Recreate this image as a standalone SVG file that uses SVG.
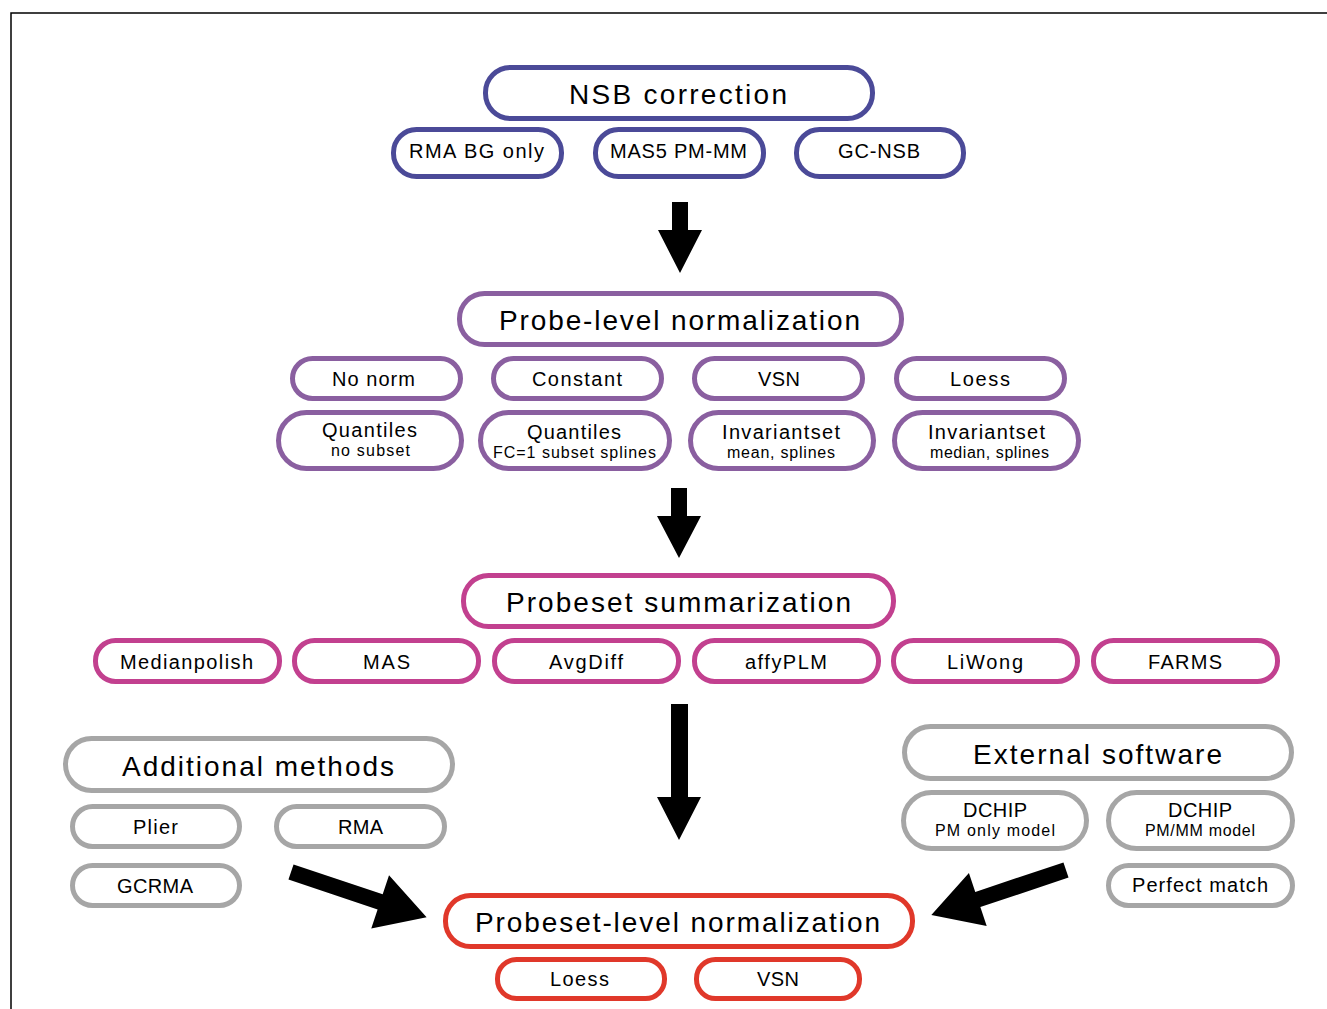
<svg xmlns="http://www.w3.org/2000/svg" width="1327" height="1009" viewBox="0 0 1327 1009">
<style>
rect{fill:#fff;stroke-width:5}
.b rect{stroke:#4b4a98}
.p rect{stroke:#8a5fa0}
.m rect{stroke:#c2408f}
.g rect{stroke:#a6a6a6}
.r rect{stroke:#e0382a}
text{font-family:"Liberation Sans",Arial,sans-serif;fill:#000;text-anchor:middle}
.t{font-size:28px}
.s{font-size:20px}
.x{font-size:16px}
.arr{fill:#000}
</style>
<path d="M11,1009 V13 H1327" fill="none" stroke="#000" stroke-width="1.5"/>
<g id="connectors" class="arr">
<polygon points="672,202 688,202 688,230 702,230 680,273 658,230 672,230"/>
<polygon points="671,488 687,488 687,516 701,516 679,558 657,516 671,516"/>
<polygon points="671,704 688,704 688,797 701,797 679,840 657,797 671,797"/>
<polygon transform="translate(291,872) rotate(18.5)" points="0,-8 94,-8 94,-28 143,0 94,28 94,8 0,8"/>
<polygon transform="translate(1066,870) rotate(161.5)" points="0,-8 93,-8 93,-28 142,0 93,28 93,8 0,8"/>
</g>
<g class="b">
<g id="nsb"><rect x="485.5" y="67.5" width="387" height="51" rx="25"/><text class="t" x="678" y="103.5" textLength="218" lengthAdjust="spacing">NSB correction</text></g>
<g id="rmabg"><rect x="393.5" y="129.5" width="168" height="47" rx="23"/><text class="s" x="476.5" y="158" textLength="135" lengthAdjust="spacing">RMA BG only</text></g>
<g id="mas5"><rect x="595.5" y="129.5" width="168" height="47" rx="23"/><text class="s" x="678.5" y="158" textLength="137" lengthAdjust="spacing">MAS5 PM-MM</text></g>
<g id="gcnsb"><rect x="796.5" y="129.5" width="167" height="47" rx="23"/><text class="s" x="879" y="158" textLength="82" lengthAdjust="spacing">GC-NSB</text></g>
</g>
<g class="p">
<g id="probelevel"><rect x="459.5" y="293.5" width="442" height="51" rx="25"/><text class="t" x="679.5" y="330" textLength="361" lengthAdjust="spacing">Probe-level normalization</text></g>
<g id="nonorm"><rect x="292.5" y="358.5" width="168" height="40" rx="20"/><text class="s" x="373.5" y="386" textLength="83" lengthAdjust="spacing">No norm</text></g>
<g id="constant"><rect x="493.5" y="358.5" width="168" height="40" rx="20"/><text class="s" x="577" y="386" textLength="90" lengthAdjust="spacing">Constant</text></g>
<g id="vsn1"><rect x="694.5" y="358.5" width="168" height="40" rx="20"/><text class="s" x="779" y="386" textLength="42" lengthAdjust="spacing">VSN</text></g>
<g id="loess1"><rect x="896.5" y="358.5" width="168" height="40" rx="20"/><text class="s" x="980" y="386" textLength="60" lengthAdjust="spacing">Loess</text></g>
<g id="quant1"><rect x="278.5" y="412.5" width="183" height="56" rx="28"/><text class="s" x="369.5" y="437" textLength="95" lengthAdjust="spacing">Quantiles</text><text class="x" x="370.5" y="456" textLength="79" lengthAdjust="spacing">no subset</text></g>
<g id="quant2"><rect x="480.5" y="412.5" width="189" height="56" rx="28"/><text class="s" x="574" y="439" textLength="94" lengthAdjust="spacing">Quantiles</text><text class="x" x="574.5" y="458" textLength="163" lengthAdjust="spacing">FC=1 subset splines</text></g>
<g id="inv1"><rect x="690.5" y="412.5" width="183" height="56" rx="28"/><text class="s" x="781" y="439" textLength="118" lengthAdjust="spacing">Invariantset</text><text class="x" x="781" y="458" textLength="108" lengthAdjust="spacing">mean, splines</text></g>
<g id="inv2"><rect x="894.5" y="412.5" width="184" height="56" rx="28"/><text class="s" x="986.5" y="439" textLength="117" lengthAdjust="spacing">Invariantset</text><text class="x" x="989.5" y="458" textLength="119" lengthAdjust="spacing">median, splines</text></g>
</g>
<g class="m">
<g id="summ"><rect x="463.5" y="575.5" width="430" height="51" rx="25"/><text class="t" x="678.5" y="612" textLength="345" lengthAdjust="spacing">Probeset summarization</text></g>
<g id="medianpolish"><rect x="95.5" y="640.5" width="184" height="41" rx="20"/><text class="s" x="186.5" y="669" textLength="133" lengthAdjust="spacing">Medianpolish</text></g>
<g id="mas"><rect x="294.5" y="640.5" width="184" height="41" rx="20"/><text class="s" x="386.5" y="669" textLength="47" lengthAdjust="spacing">MAS</text></g>
<g id="avgdiff"><rect x="494.5" y="640.5" width="184" height="41" rx="20"/><text class="s" x="586" y="669" textLength="74" lengthAdjust="spacing">AvgDiff</text></g>
<g id="affyplm"><rect x="694.5" y="640.5" width="184" height="41" rx="20"/><text class="s" x="786" y="669" textLength="82" lengthAdjust="spacing">affyPLM</text></g>
<g id="liwong"><rect x="893.5" y="640.5" width="184" height="41" rx="20"/><text class="s" x="985" y="669" textLength="76" lengthAdjust="spacing">LiWong</text></g>
<g id="farms"><rect x="1093.5" y="640.5" width="184" height="41" rx="20"/><text class="s" x="1185" y="669" textLength="74" lengthAdjust="spacing">FARMS</text></g>
</g>
<g class="g">
<g id="additional"><rect x="65.5" y="738.5" width="387" height="52" rx="26"/><text class="t" x="258" y="776" textLength="272" lengthAdjust="spacing">Additional methods</text></g>
<g id="plier"><rect x="72.5" y="806.5" width="167" height="40" rx="20"/><text class="s" x="155.5" y="834" textLength="45" lengthAdjust="spacing">Plier</text></g>
<g id="rma"><rect x="276.5" y="806.5" width="168" height="40" rx="20"/><text class="s" x="360.5" y="834" textLength="45" lengthAdjust="spacing">RMA</text></g>
<g id="gcrma"><rect x="72.5" y="865.5" width="167" height="40" rx="20"/><text class="s" x="155" y="893" textLength="76" lengthAdjust="spacing">GCRMA</text></g>
<g id="external"><rect x="904.5" y="726.5" width="387" height="52" rx="26"/><text class="t" x="1097.5" y="764" textLength="249" lengthAdjust="spacing">External software</text></g>
<g id="dchip1"><rect x="903.5" y="792.5" width="183" height="56" rx="28"/><text class="s" x="995" y="817" textLength="64" lengthAdjust="spacing">DCHIP</text><text class="x" x="995" y="836" textLength="120" lengthAdjust="spacing">PM only model</text></g>
<g id="dchip2"><rect x="1108.5" y="792.5" width="184" height="56" rx="28"/><text class="s" x="1200" y="817" textLength="64" lengthAdjust="spacing">DCHIP</text><text class="x" x="1200" y="836" textLength="110" lengthAdjust="spacing">PM/MM model</text></g>
<g id="perfect"><rect x="1108.5" y="865.5" width="184" height="40" rx="20"/><text class="s" x="1200" y="892" textLength="136" lengthAdjust="spacing">Perfect match</text></g>
</g>
<g class="r">
<g id="psnorm"><rect x="445.5" y="895.5" width="467" height="51" rx="25"/><text class="t" x="677.5" y="932" textLength="405" lengthAdjust="spacing">Probeset-level normalization</text></g>
<g id="loess2"><rect x="497.5" y="959.5" width="167" height="39" rx="19"/><text class="s" x="579.5" y="986" textLength="59" lengthAdjust="spacing">Loess</text></g>
<g id="vsn2"><rect x="696.5" y="959.5" width="163" height="39" rx="19"/><text class="s" x="778" y="986" textLength="42" lengthAdjust="spacing">VSN</text></g>
</g>
</svg>
